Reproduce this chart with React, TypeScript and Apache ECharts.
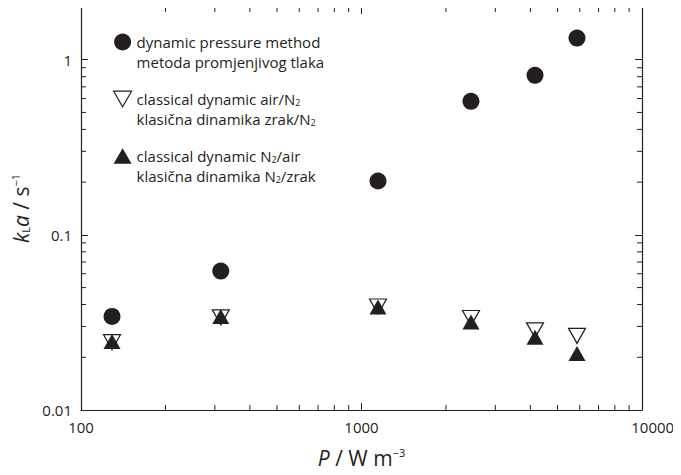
import React, { useEffect, useRef } from "react";
import * as echarts from "echarts";

const powerW = [129, 315, 1145, 2456, 4155, 5865];
const dynamicPressure = [0.0342, 0.0621, 0.203, 0.579, 0.815, 1.33];
const airN2 = [0.0244, 0.0338, 0.0390, 0.0335, 0.0285, 0.0265];
const n2Air = [0.0246, 0.0342, 0.0387, 0.0318, 0.0260, 0.0210];

const xMinorTicks = [200, 300, 400, 500, 600, 700, 800, 900, 2000, 3000, 4000, 5000, 6000, 7000, 8000, 9000];
const yMinorTicks = [0.02, 0.03, 0.04, 0.05, 0.06, 0.07, 0.08, 0.09, 0.2, 0.3, 0.4, 0.5, 0.6, 0.7, 0.8, 0.9];
const xTickLabels = ["100", "1000", "10000"];
const yTickLabels = ["0.01", "0.1", "1"];

const seriesNames = [
  "dynamic pressure method",
  "classical dynamic air/N2",
  "classical dynamic N2/air",
];
const legendRich: Record<string, string> = {
  "dynamic pressure method": "{t|dynamic pressure method}\n{t|metoda promjenjivog tlaka}",
  "classical dynamic air/N2": "{t|classical dynamic air/N}{s|2}\n{t|klasična dinamika zrak/N}{s|2}",
  "classical dynamic N2/air": "{t|classical dynamic N}{s|2}{t|/air}\n{t|klasična dinamika N}{s|2}{t|/zrak}",
};

const INK = "#231f20";
const FONT = "Open Sans";

export default function App() {
  const ref = useRef<HTMLDivElement>(null);
  useEffect(() => {
    if (!ref.current) return;
    const chart = echarts.init(ref.current, null, { renderer: "svg" });

    const find = (labels: string[], v: number) =>
      labels.find((l) => Math.abs(parseFloat(l) - v) / parseFloat(l) < 1e-9) ?? "";
    const xFmt = (v: number) => {
      const s = find(xTickLabels, v);
      // the last label gets pushed inward by the library; a half-width box keeps its text centred on the tick
      return s && s === xTickLabels[xTickLabels.length - 1] ? `{m|${s}}` : s;
    };
    const yFmt = (v: number) => find(yTickLabels, v);

    const axisCommon = {
      type: "log" as const,
      logBase: 10,
      axisLine: { show: true, lineStyle: { color: INK, width: 1.2 } },
      axisTick: { show: true, inside: true, length: 7, lineStyle: { color: INK, width: 1 } },
      splitLine: { show: false },
      minorTick: { show: false },
    };

    const tickLen = 5;
    const option: any = {
      animation: false,
      textStyle: { fontFamily: FONT },
      grid: { left: 81, right: 39, top: 7, bottom: 65, containLabel: false },
      legend: {
        show: true,
        orient: "vertical",
        left: 108,
        top: 7,
        itemWidth: 18,
        itemHeight: 17,
        itemGap: -3,
        selectedMode: false,
        data: [
          { name: seriesNames[0], icon: "circle", itemStyle: { color: INK, opacity: 1 } },
          {
            name: seriesNames[1],
            icon: "path://M0,0 L20,0 L10,17.3 Z",
            itemStyle: { color: "#ffffff", borderColor: INK, borderWidth: 1.2, opacity: 1 },
          },
          { name: seriesNames[2], icon: "path://M10,0 L20,17.3 L0,17.3 Z", itemStyle: { color: INK, opacity: 1 } },
        ],
        formatter: (name: string) => legendRich[name],
        textStyle: {
          color: INK,
          fontFamily: FONT,
          fontSize: 15,
          lineHeight: 20,
          padding: [20, 0, 0, 0],
          rich: {
            t: { fontSize: 15, lineHeight: 20, color: INK, fontFamily: FONT },
            s: {
              fontSize: 9,
              lineHeight: 9,
              verticalAlign: "middle",
              padding: [7, 0, 0, 0],
              color: INK,
              fontFamily: FONT,
            },
          },
        },
      },
      xAxis: [
        {
          ...axisCommon,
          position: "bottom",
          min: 100,
          max: 10000,
          axisLabel: {
            show: true,
            color: INK,
            fontSize: 15,
            fontFamily: FONT,
            margin: 9,
            formatter: xFmt,
            rich: {
              m: { fontSize: 15, color: INK, fontFamily: FONT, width: 21.5, align: "left" },
            },
          },
          name: "{i|P} / W m{p|−3}",
          nameLocation: "middle",
          nameGap: 37,
          nameTextStyle: {
            color: INK,
            fontSize: 21,
            fontFamily: FONT,
            rich: {
              i: { fontSize: 21, fontStyle: "italic", color: INK, fontFamily: FONT },
              p: { fontSize: 11, verticalAlign: "top", lineHeight: 13, color: INK, fontFamily: FONT },
            },
          },
        },
        {
          ...axisCommon,
          position: "top",
          min: 100,
          max: 10000,
          axisLabel: { show: false },
        },
      ],
      yAxis: [
        {
          ...axisCommon,
          position: "left",
          min: 0.01,
          max: 2,
          axisLabel: { show: true, color: INK, fontSize: 15, fontFamily: FONT, margin: 9, formatter: yFmt },
          name: "{i|k}{s|L}{i|a} / s{p|−1}",
          nameLocation: "middle",
          nameGap: 46,
          nameRotate: 90,
          nameTextStyle: {
            color: INK,
            fontSize: 21,
            fontFamily: FONT,
            rich: {
              i: { fontSize: 21, fontStyle: "italic", color: INK, fontFamily: FONT },
              s: { fontSize: 11, verticalAlign: "bottom", lineHeight: 10, color: INK, fontFamily: FONT },
              p: { fontSize: 11, verticalAlign: "top", lineHeight: 13, color: INK, fontFamily: FONT },
            },
          },
        },
        {
          ...axisCommon,
          position: "right",
          min: 0.01,
          max: 2,
          axisLabel: { show: false },
        },
      ],
      series: [
        {
          type: "custom",
          name: "xminor",
          silent: true,
          xAxisIndex: 0,
          yAxisIndex: 0,
          data: xMinorTicks.map((v) => [v, 0.01]),
          renderItem: (params: any, api: any) => {
            const cs = params.coordSys;
            const p = api.coord([api.value(0), api.value(1)]);
            const b = cs.y + cs.height;
            const style = { stroke: INK, lineWidth: 1 };
            return {
              type: "group",
              children: [
                { type: "line", shape: { x1: p[0], y1: b, x2: p[0], y2: b - tickLen }, style },
                { type: "line", shape: { x1: p[0], y1: cs.y, x2: p[0], y2: cs.y + tickLen }, style },
              ],
            };
          },
          z: 1,
        },
        {
          type: "custom",
          name: "yminor",
          silent: true,
          xAxisIndex: 0,
          yAxisIndex: 0,
          data: yMinorTicks.map((v) => [100, v]),
          renderItem: (params: any, api: any) => {
            const cs = params.coordSys;
            const p = api.coord([api.value(0), api.value(1)]);
            const r = cs.x + cs.width;
            const style = { stroke: INK, lineWidth: 1 };
            return {
              type: "group",
              children: [
                { type: "line", shape: { x1: cs.x, y1: p[1], x2: cs.x + tickLen, y2: p[1] }, style },
                { type: "line", shape: { x1: r, y1: p[1], x2: r - tickLen, y2: p[1] }, style },
              ],
            };
          },
          z: 1,
        },
        {
          type: "scatter",
          name: seriesNames[0],
          data: powerW.map((x, i) => [x, dynamicPressure[i]]),
          symbol: "circle",
          symbolSize: 17,
          itemStyle: { color: INK, opacity: 1 },
          z: 3,
        },
        {
          type: "scatter",
          name: seriesNames[1],
          data: powerW.map((x, i) => [x, airN2[i]]),
          symbol: "triangle",
          symbolRotate: 180,
          symbolSize: [17, 15],
          itemStyle: { color: "#ffffff", borderColor: INK, borderWidth: 1.2, opacity: 1 },
          z: 3,
        },
        {
          type: "scatter",
          name: seriesNames[2],
          data: powerW.map((x, i) => [x, n2Air[i]]),
          symbol: "triangle",
          symbolSize: [17, 15],
          itemStyle: { color: INK, opacity: 1 },
          z: 4,
        },
      ],
    };

    chart.setOption(option);
    return () => chart.dispose();
  }, []);

  return <div ref={ref} style={{ width: 681, height: 475, margin: -8, background: "#fff" }} />;
}
